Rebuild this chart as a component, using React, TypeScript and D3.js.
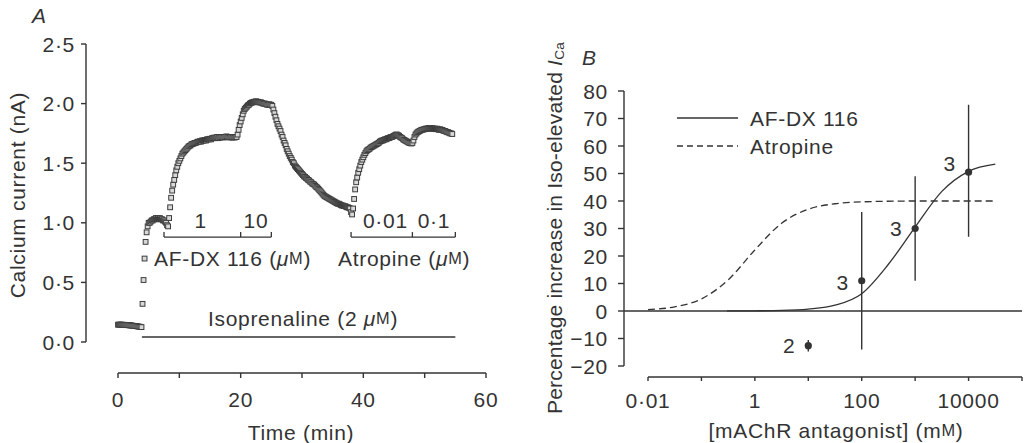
import React from "react";
import * as d3 from "d3";

// ---- panel A: calcium current, one sweep every 10 s ----
const sampleStep = 1 / 6; // min
const currentNA = [
  0.145, 0.146, 0.145, 0.146, 0.144, 0.145, 0.143, 0.144, 0.142, 0.141, 0.142, 0.14,
  0.139, 0.139, 0.137, 0.136, 0.135, 0.134, 0.133, 0.131, 0.13, 0.128, 0.127, 0.125,
  0.32, 0.52, 0.7, 0.84, 0.92, 0.97, 1.0, 1.0, 1.01, 1.02, 1.02, 1.03,
  1.03, 1.04, 1.03, 1.04, 1.03, 1.04, 1.03, 1.03, 1.02, 1.02, 1.01, 1.0,
  0.98, 0.97, 1.04, 1.13, 1.21, 1.27, 1.32, 1.36, 1.4, 1.44, 1.47, 1.5,
  1.52, 1.54, 1.56, 1.58, 1.59, 1.6, 1.61, 1.62, 1.63, 1.64, 1.645, 1.65,
  1.66, 1.66, 1.665, 1.67, 1.67, 1.675, 1.68, 1.68, 1.685, 1.68, 1.69, 1.69,
  1.69, 1.695, 1.69, 1.7, 1.7, 1.7, 1.705, 1.7, 1.71, 1.71, 1.715, 1.71,
  1.715, 1.72, 1.71, 1.72, 1.715, 1.72, 1.72, 1.715, 1.72, 1.72, 1.725, 1.72,
  1.72, 1.715, 1.72, 1.72, 1.715, 1.72, 1.715, 1.72, 1.72, 1.74, 1.78, 1.82,
  1.85, 1.88, 1.91, 1.94, 1.955, 1.965, 1.975, 1.985, 1.99, 2.0, 2.005, 2.01,
  2.01, 2.015, 2.015, 2.02, 2.015, 2.015, 2.01, 2.01, 2.01, 2.005, 2.0, 2.0,
  2.0, 1.995, 1.99, 1.99, 1.995, 1.99, 1.99, 1.98, 1.95, 1.92, 1.89, 1.86,
  1.83, 1.81, 1.79, 1.77, 1.74, 1.72, 1.69, 1.67, 1.65, 1.62, 1.6, 1.58,
  1.56, 1.545, 1.53, 1.51, 1.5, 1.48, 1.47, 1.46, 1.45, 1.44, 1.43, 1.42,
  1.41, 1.4, 1.39, 1.385, 1.375, 1.37, 1.36, 1.355, 1.345, 1.34, 1.33, 1.325,
  1.32, 1.31, 1.3, 1.295, 1.285, 1.275, 1.265, 1.255, 1.245, 1.235, 1.225, 1.22,
  1.215, 1.21, 1.205, 1.2, 1.195, 1.19, 1.185, 1.18, 1.175, 1.17, 1.165, 1.16,
  1.16, 1.155, 1.15, 1.145, 1.145, 1.14, 1.14, 1.135, 1.13, 1.13, 1.125, 1.12,
  1.09, 1.07, 1.12, 1.2, 1.28, 1.34, 1.38, 1.42, 1.45, 1.48, 1.51, 1.53,
  1.55, 1.57, 1.585, 1.6, 1.61, 1.615, 1.62, 1.63, 1.635, 1.64, 1.645, 1.65,
  1.655, 1.66, 1.665, 1.67, 1.68, 1.685, 1.69, 1.69, 1.695, 1.7, 1.7, 1.705,
  1.71, 1.71, 1.715, 1.72, 1.72, 1.725, 1.73, 1.735, 1.74, 1.74, 1.735, 1.73,
  1.72, 1.715, 1.71, 1.7, 1.695, 1.69, 1.685, 1.68, 1.675, 1.67, 1.67, 1.665,
  1.67, 1.69, 1.72, 1.74, 1.75, 1.76, 1.765, 1.77, 1.775, 1.78, 1.78, 1.785,
  1.785, 1.79, 1.79, 1.79, 1.795, 1.79, 1.79, 1.795, 1.79, 1.79, 1.79, 1.785,
  1.79, 1.785, 1.78, 1.785, 1.78, 1.78, 1.775, 1.77, 1.77, 1.765, 1.76, 1.76,
  1.755, 1.75, 1.75, 1.745,
];

const timeTicks = [0, 10, 20, 30, 40, 50, 60];
const timeLabels = [0, 20, 40, 60];
const currentTicks = [0, 0.5, 1, 1.5, 2, 2.5];

const isoprenalineSpan = [3.9, 55];
const afdxBracket = [7.5, 20, 25];
const afdxDoses = ["1", "10"];
const afdxDoseAt = [13.5, 22.5];
const atropineBracket = [38, 48, 55];
const atropineDoses = ["0·01", "0·1"];
const atropineDoseAt = [43.6, 51.5];

// ---- panel B: dose-response ----
const doseTicks = [0.01, 0.1, 1, 10, 100, 1000, 10000, 100000];
const doseLabels = [0.01, 1, 100, 10000];
const pctTicks = [-20, -10, 0, 10, 20, 30, 40, 50, 60, 70, 80];

const meanDose = [10, 100, 1000, 10000];
const meanPct = [-12.6, 11, 30, 50.5];
const errLow = [-14.7, -14, 11, 27];
const errHigh = [-10.5, 36, 49, 75];
const nCells = [2, 3, 3, 3];

const afdxFitDose = [0.3, 1, 3.16, 10, 31.6, 100, 316, 1000, 3162, 10000, 31623];
const afdxFitPct = [0.02, 0.07, 0.2, 0.7, 2.1, 6.3, 17, 30.5, 43.5, 50.8, 53.4];
const atropineFitDose = [0.01, 0.0316, 0.1, 0.316, 1, 3.16, 10, 31.6, 100, 1000, 31623];
const atropineFitPct = [0.5, 1.5, 4.4, 11.3, 22.2, 31.9, 37.0, 39.0, 39.7, 40, 40];

const ink = "#333";
const font = "'Liberation Sans', Arial, sans-serif";
const fs = 21;
const spacing = 0.7;

function fmt(v: number) {
  return v.toFixed(1).replace(".", "·");
}

function doseFmt(v: number) {
  return v < 1 ? String(v).replace(".", "·") : String(v);
}

function MicroMolar() {
  return (
    <>
      <tspan fontStyle="italic">μ</tspan>
      <tspan fontSize={fs * 0.78}>M</tspan>
    </>
  );
}

function PanelA() {
  const x = d3.scaleLinear().domain([0, 60]).range([118, 486]);
  const y = d3.scaleLinear().domain([0, 2.5]).range([342, 44]);
  const axisX = 86;
  const axisY = 373;
  const sq = 4.8;
  const brY = y(0.88);
  const tickUp = 5;

  const bracket = (pts: number[]) => (
    <g stroke={ink} strokeWidth={1.3}>
      <line x1={x(pts[0])} x2={x(pts[pts.length - 1])} y1={brY} y2={brY} />
      {pts.map((t, i) => (
        <line key={i} x1={x(t)} x2={x(t)} y1={brY} y2={brY - tickUp} />
      ))}
    </g>
  );

  return (
    <g fontFamily={font} fontSize={fs} fill={ink} letterSpacing={spacing}>
      <text x={32} y={15} fontStyle="italic" dominantBaseline="central">A</text>

      {/* y axis */}
      <line x1={axisX} x2={axisX} y1={y(2.5)} y2={y(0)} stroke={ink} strokeWidth={1.4} />
      {currentTicks.map((v) => (
        <g key={v}>
          <line x1={axisX - 5} x2={axisX} y1={y(v)} y2={y(v)} stroke={ink} strokeWidth={1.4} />
          <text x={axisX - 11} y={y(v)} textAnchor="end" dominantBaseline="central">{fmt(v)}</text>
        </g>
      ))}
      <text transform={`translate(17,195) rotate(-90)`} textAnchor="middle" dominantBaseline="central">
        Calcium current (nA)
      </text>

      {/* x axis */}
      <line x1={x(0)} x2={x(60)} y1={axisY} y2={axisY} stroke={ink} strokeWidth={1.4} />
      {timeTicks.map((v) => (
        <line key={v} x1={x(v)} x2={x(v)} y1={axisY} y2={axisY + 5} stroke={ink} strokeWidth={1.4} />
      ))}
      {timeLabels.map((v) => (
        <text key={v} x={x(v)} y={399} textAnchor="middle" dominantBaseline="central">{v}</text>
      ))}
      <text x={301} y={432} textAnchor="middle" dominantBaseline="central">Time (min)</text>

      {/* drug bars */}
      <line x1={x(isoprenalineSpan[0])} x2={x(isoprenalineSpan[1])} y1={y(0.042)} y2={y(0.042)} stroke={ink} strokeWidth={1.3} />
      <text x={303} y={318} textAnchor="middle" dominantBaseline="central">
        Isoprenaline (2 <MicroMolar />)
      </text>
      {bracket(afdxBracket)}
      {afdxDoses.map((d, i) => (
        <text key={d} x={x(afdxDoseAt[i])} y={220} textAnchor="middle" dominantBaseline="central">{d}</text>
      ))}
      <text x={154} y={258} dominantBaseline="central">
        AF-DX 116 (<MicroMolar />)
      </text>
      {bracket(atropineBracket)}
      {atropineDoses.map((d, i) => (
        <text key={d} x={x(atropineDoseAt[i])} y={220} textAnchor="middle" dominantBaseline="central">{d}</text>
      ))}
      <text x={338} y={258} dominantBaseline="central">
        Atropine (<MicroMolar />)
      </text>

      {/* sweeps */}
      <g fill="#d8d8d8" stroke="#3c3c3c" strokeWidth={1}>
        {currentNA.map((v, i) => (
          <rect key={i} x={x(i * sampleStep) - sq / 2} y={y(v) - sq / 2} width={sq} height={sq} />
        ))}
      </g>
    </g>
  );
}

function PanelB() {
  const x = d3.scaleLog().domain([0.01, 100000]).range([648, 1022]);
  const y = d3.scaleLinear().domain([-20, 80]).range([366, 91]);
  const axisX = 624;
  const axisY = 377;
  const line = d3
    .line<[number, number]>()
    .x((d) => x(d[0]))
    .y((d) => y(d[1]))
    .curve(d3.curveMonotoneX);
  const afdxPath = line(afdxFitDose.map((d, i) => [d, afdxFitPct[i]]));
  const atroPath = line(atropineFitDose.map((d, i) => [d, atropineFitPct[i]]));
  const labelDy = [0, 2, 0, -9];

  return (
    <g fontFamily={font} fontSize={fs} fill={ink} letterSpacing={spacing}>
      <text x={582} y={57} fontStyle="italic" dominantBaseline="central">B</text>

      {/* y axis */}
      <line x1={axisX} x2={axisX} y1={y(80)} y2={y(-20)} stroke={ink} strokeWidth={1.4} />
      {pctTicks.map((v) => (
        <g key={v}>
          <line x1={axisX - 6} x2={axisX} y1={y(v)} y2={y(v)} stroke={ink} strokeWidth={1.4} />
          <text x={axisX - 16} y={y(v)} textAnchor="end" dominantBaseline="central">
            {v < 0 ? `−${-v}` : v}
          </text>
        </g>
      ))}
      <text transform={`translate(554,228) rotate(-90)`} textAnchor="middle" dominantBaseline="central" letterSpacing={0.2}>
        Percentage increase in Iso-elevated <tspan fontStyle="italic">I</tspan>
        <tspan fontSize={fs * 0.65} dy={5}>Ca</tspan>
      </text>

      {/* x axis */}
      <line x1={x(0.01)} x2={x(100000)} y1={axisY} y2={axisY} stroke={ink} strokeWidth={1.4} />
      {doseTicks.map((v) => (
        <line key={v} x1={x(v)} x2={x(v)} y1={axisY} y2={axisY + 4} stroke={ink} strokeWidth={1.4} />
      ))}
      {doseLabels.map((v) => (
        <text key={v} x={x(v)} y={400} textAnchor="middle" dominantBaseline="central">{doseFmt(v)}</text>
      ))}
      <text x={836} y={430} textAnchor="middle" dominantBaseline="central">
        [mAChR antagonist] (m<tspan fontSize={fs * 0.78}>M</tspan>)
      </text>

      {/* zero line */}
      <line x1={axisX} x2={x(100000)} y1={y(0)} y2={y(0)} stroke={ink} strokeWidth={1.4} />

      {/* fits */}
      <path d={atroPath ?? ""} fill="none" stroke={ink} strokeWidth={1.3} strokeDasharray="7,4" />
      <path d={afdxPath ?? ""} fill="none" stroke={ink} strokeWidth={1.3} />

      {/* legend */}
      <line x1={677} x2={738} y1={118} y2={118} stroke={ink} strokeWidth={1.3} />
      <text x={750} y={118} dominantBaseline="central">AF-DX 116</text>
      <line x1={677} x2={738} y1={146} y2={146} stroke={ink} strokeWidth={1.3} strokeDasharray="6,4" />
      <text x={750} y={146} dominantBaseline="central">Atropine</text>

      {/* means with error bars */}
      {meanDose.map((d, i) => (
        <g key={d}>
          <line x1={x(d)} x2={x(d)} y1={y(errLow[i])} y2={y(errHigh[i])} stroke={ink} strokeWidth={1.4} />
          <circle cx={x(d)} cy={y(meanPct[i])} r={3.6} fill={ink} />
          <text x={x(d) - 19} y={y(meanPct[i]) + labelDy[i]} textAnchor="middle" dominantBaseline="central">
            {nCells[i]}
          </text>
        </g>
      ))}
    </g>
  );
}

export default function App() {
  return (
    <svg width={1029} height={443} style={{ display: "block", position: "absolute", left: 0, top: 0, background: "#fff" }}>
      <PanelA />
      <PanelB />
    </svg>
  );
}
